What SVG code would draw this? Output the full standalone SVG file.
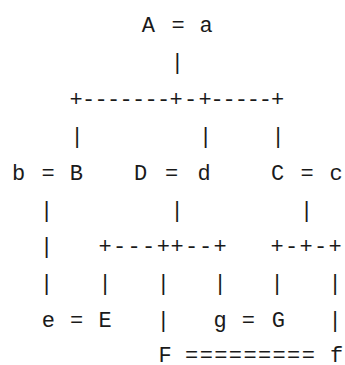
<svg xmlns="http://www.w3.org/2000/svg" width="345" height="365" viewBox="0 0 345 365">
<style>
.t{font-family:"Liberation Mono","DejaVu Sans Mono",monospace;font-size:22px;fill:#1a1a1a;text-anchor:middle}
</style>
<rect width="345" height="365" fill="#fff"/>
<g id="connectors" class="t">
<text y="68.9" x="177.3">|</text>
<text y="105.8" x="76 88.5 101 113.5 126 138.5 151 163.5 176 190.5 205 217.1 229.2 241.3 253.3 265.4 277.5">+-------+-+-----+</text>
<text y="142.7" x="77">|</text>
<text y="142.7" x="205.5">|</text>
<text y="142.7" x="278">|</text>
<text y="216.5" x="46.7">|</text>
<text y="216.5" x="177">|</text>
<text y="216.5" x="306.7">|</text>
<text y="253.4" x="46.7">|</text>
<text y="253.4" x="105 119.5 134 148.5 163.3 177 191.5 205.5 220">+---++--+</text>
<text y="253.4" x="277 291.5 306 320.5 335">+-+-+</text>
<text y="290.3" x="46.7">|</text>
<text y="290.3" x="105">|</text>
<text y="290.3" x="163.3">|</text>
<text y="290.3" x="220">|</text>
<text y="290.3" x="277">|</text>
<text y="290.3" x="335">|</text>
<text y="327.2" x="163.3">|</text>
<text y="327.2" x="335">|</text>
</g>
<g id="node-A" class="t"><text y="32" x="148.3 163 178 192 206">A = a</text></g>
<g id="node-B" class="t"><text y="179.6" x="18.7 33 48 62 76.3">b = B</text></g>
<g id="node-D" class="t"><text y="179.6" x="140.5 156 171.5 188 204">D = d</text></g>
<g id="node-C" class="t"><text y="179.6" x="277.5 292 307 321 336">C = c</text></g>
<g id="node-E" class="t"><text y="327.2" x="48.3 62.5 76.7 91 105">e = E</text></g>
<g id="node-G" class="t"><text y="327.2" x="220 234 248.3 263 278.3">g = G</text></g>
<g id="node-F" class="t"><text y="362.3" x="165 178 191.7 206.3 220.9 235.4 250 264.6 279.2 293.7 308.3 322.5 336.7">F ========= f</text></g>
</svg>
